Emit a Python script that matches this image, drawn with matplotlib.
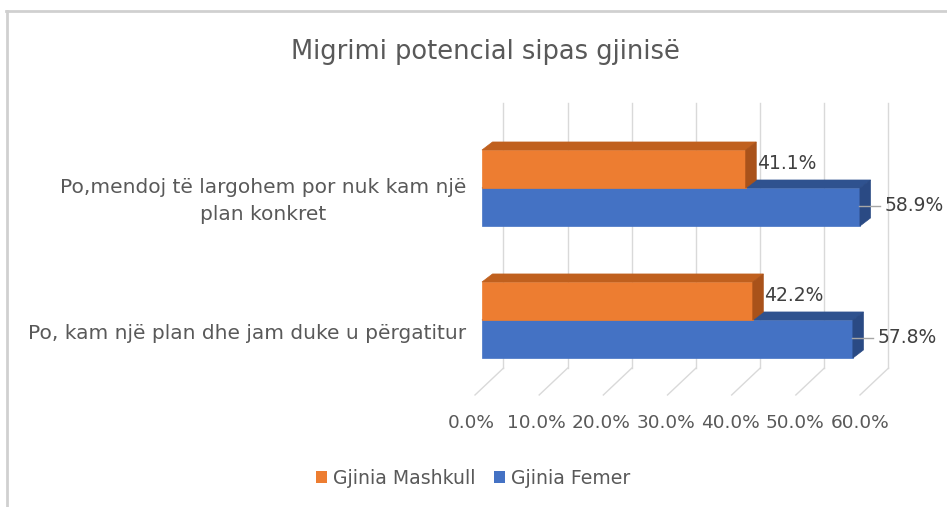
import numpy as np
import matplotlib
matplotlib.use("Agg")
import matplotlib.pyplot as plt
from matplotlib.patches import Polygon, Patch
from matplotlib.lines import Line2D

# data
categories = ["Po,mendoj të largohem por nuk kam një\nplan konkret",
              "Po, kam një plan dhe jam duke u përgatitur"]
mashkull = [41.1, 42.2]
femer = [58.9, 57.8]
series_names = ["Gjinia Mashkull", "Gjinia Femer"]
ticks = [0, 10, 20, 30, 40, 50, 60]
tick_labels = ["%.1f%%" % t for t in ticks]

# colours (front, top, side)
orange = ("#ED7D31", "#C0601E", "#A9521A")
blue = ("#4472C4", "#2F528F", "#2A4A84")
txt = "#595959"
grid_c = "#D9D9D9"

W, H = 947, 507
fig = plt.figure(figsize=(W / 100, H / 100), dpi=100)
fig.patch.set_facecolor("white")

# axes: front plane 0% at x=482px, 60% at 867px
ax = fig.add_axes([482 / W, 1 - 400 / H, 385 / W, 300 / H])
ax.set_xlim(0, 60)
ax.set_ylim(-0.606, 1.667)
ax.axis("off")

ypos = [1.0, 0.0]
h = 0.288           # bar thickness
DX, DY = 1.64, 0.061  # bar depth
BX = 3.35           # back wall offset
wall_bot, wall_top = -0.364, 1.644
floor_front_y, floor_front_dx = -0.568, -1.09

# back wall gridlines + floor lines
for t, lab in zip(ticks, tick_labels):
    ax.plot([t + BX, t + BX], [wall_bot, wall_top], color=grid_c, lw=1,
            clip_on=False, zorder=1)
    ax.plot([t + BX, t + floor_front_dx], [wall_bot, floor_front_y],
            color=grid_c, lw=1, clip_on=False, zorder=1)
    ax.text(t * 1.01 - 1.7, -0.78, lab, ha="center", va="center",
            color=txt, fontsize=13.3, clip_on=False)


def bar3d(v, y0, cols, z):
    front, top, side = cols
    faces = [
        ([(0, y0), (v, y0), (v, y0 + h), (0, y0 + h)], front),
        ([(0, y0 + h), (v, y0 + h), (v + DX, y0 + h + DY), (DX, y0 + h + DY)], top),
        ([(v, y0), (v + DX, y0 + DY), (v + DX, y0 + h + DY), (v, y0 + h)], side),
    ]
    for pts, c in faces:
        ax.add_patch(Polygon(pts, closed=True, facecolor=c, edgecolor=c,
                             lw=0.5, clip_on=False, zorder=z))


for i, c in enumerate(ypos):
    bar3d(femer[i], c - h, blue, 3)
    bar3d(mashkull[i], c, orange, 4)
    # labels
    ax.text(mashkull[i] + DX + 0.1, c + h / 2 + 0.04, "%.1f%%" % mashkull[i],
            ha="left", va="center", color="#404040", fontsize=13.5, zorder=6)
    ax.plot([femer[i] - 0.2, femer[i] + 3.2], [c - h / 2 + 0.01] * 2,
            color="#A6A6A6", lw=1, clip_on=False, zorder=5)
    ax.text(femer[i] + 3.8, c - h / 2 + 0.01, "%.1f%%" % femer[i],
            ha="left", va="center", color="#404040", fontsize=13.5, zorder=6)
    ax.text(-2.5, c - 0.1, categories[i], ha="right", va="center",
            multialignment="center", color=txt, fontsize=14.5,
            linespacing=1.5, clip_on=False)

fig.text(485 / W, 1 - 52 / H, "Migrimi potencial sipas gjinisë",
         ha="center", va="center", color=txt, fontsize=18.5)

handles = [Patch(facecolor=orange[0]), Patch(facecolor=blue[0])]
fig.legend(handles, series_names, loc="center", bbox_to_anchor=(473 / W, 1 - 478 / H),
           ncol=2, frameon=False, handlelength=0.6, handleheight=0.6,
           handletextpad=0.3, columnspacing=1.0, labelcolor=txt, fontsize=13.6)

# chart frame
fig.add_artist(Line2D([6 / W, 1], [1 - 11 / H] * 2, color="#D0D0D0", lw=2))
fig.add_artist(Line2D([7 / W] * 2, [0, 1 - 11 / H], color="#D0D0D0", lw=2))

fig.savefig("out.png", dpi=100)
